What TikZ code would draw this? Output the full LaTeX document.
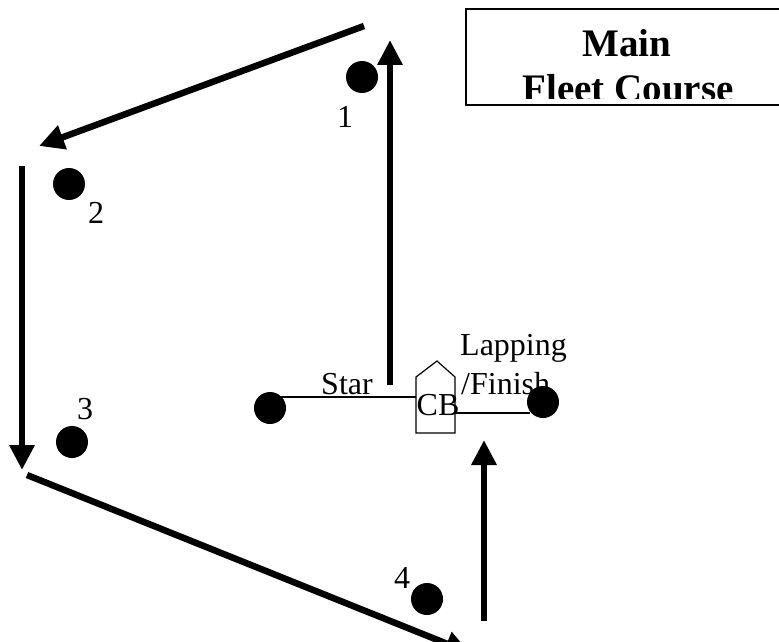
\documentclass[tikz,border=0pt]{standalone}
\usepackage{fontspec}
\setmainfont{Liberation Serif}
\usetikzlibrary{arrows.meta}
\begin{document}
\begin{tikzpicture}[x=1pt,y=-1pt,
  buoy/.style={circle,fill=black,minimum size=32pt,inner sep=0pt},
  leg/.style={line width=6.5pt,-{Triangle[length=25pt,width=24pt]}},
  thinln/.style={line width=1.2pt},
  lbl/.style={font=\fontsize{32}{35}\selectfont,inner sep=0pt},
  ttl/.style={font=\fontsize{39}{44}\selectfont\bfseries,inner sep=0pt}]
\useasboundingbox (0,0) rectangle (779,642);
% title box
\draw[line width=1.5pt] (466,9) rectangle (800,105);
\begin{scope}
\clip (466,9) rectangle (800,98);
\node[ttl,anchor=base] (t1) at (627,57) {Main};
\node[ttl,anchor=base] (t2) at (628,101) {Fleet Course};
\end{scope}
% marks
\node[buoy] (m1) at (362,77) {};
\node[buoy] (m2) at (69,184) {};
\node[buoy] (m3) at (72,442) {};
\node[buoy] (m4) at (427,599) {};
\node[buoy] (ms) at (270,408) {};
% mark labels
\node[lbl] (l1) at (345,117) {1};
\node[lbl] (l2) at (96,213) {2};
\node[lbl] (l3) at (85,409) {3};
\node[lbl] (l4) at (402,578) {4};
% committee boat
\coordinate (cbl) at (416,397);
\coordinate (cbr) at (455,413);
\coordinate (sl) at (280,397);
\coordinate (fl) at (530,413);
\draw[thinln,fill=white] (416,433) -- (416,377) -- (437,361) -- (455,377) -- (455,433) -- cycle;
\draw[thinln] (sl) -- (cbl);
\draw[thinln] (cbr) -- (fl);
\node[lbl,anchor=base] (cb) at (438,415) {CB};
\node[lbl,anchor=base] (star) at (347,394) {Star};
\node[lbl,anchor=base west] (lap) at (460,355) {Lapping};
\node[lbl,anchor=base west] (fin) at (461,394) {/Finish};
\node[buoy] (mf) at (543,402) {};
% course legs
\coordinate (a1s) at (390,385); \coordinate (a1e) at (390,40);
\coordinate (a2s) at (364,26);  \coordinate (a2e) at (39,146);
\coordinate (a3s) at (22,166);  \coordinate (a3e) at (22,470);
\coordinate (a4s) at (27,475);  \coordinate (a4e) at (470,653);
\coordinate (a5s) at (484,621); \coordinate (a5e) at (484,440);
\draw[leg] (a1s) -- (a1e);
\draw[leg] (a2s) -- (a2e);
\draw[leg] (a3s) -- (a3e);
\draw[leg] (a4s) -- (a4e);
\draw[leg] (a5s) -- (a5e);
\end{tikzpicture}
\end{document}
